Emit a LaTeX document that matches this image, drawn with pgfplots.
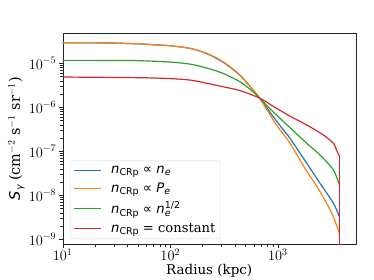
\documentclass[border=0pt]{standalone}
\usepackage{fontspec}
\setmainfont{DejaVu Serif}
\newfontfamily\djs{DejaVu Sans}
\usepackage{pgfplots}
\pgfplotsset{compat=1.18}
\definecolor{tabblue}{HTML}{1F77B4}
\definecolor{taborange}{HTML}{FF7F0E}
\definecolor{tabgreen}{HTML}{2CA02C}
\definecolor{tabred}{HTML}{D62728}
\newcommand{\sub}[1]{\raisebox{-0.35ex}{\fontsize{9.5}{11}\selectfont\djs #1}}
\newcommand{\nC}{{\djs\itshape n}\sub{CRp}}

\pgfplotstableread{
r S
10 2.94e-5
20 2.92e-5
30 2.89e-5
52 2.77e-5
70 2.65e-5
100 2.51e-5
153 2.19e-5
219 1.66e-5
310 1.06e-5
446 5.30e-6
589 2.45e-6
678 1.62e-6
910 6.1e-7
1128 3.05e-7
1300 1.97e-7
1862 5.3e-8
2473 1.87e-8
3290 6.6e-9
3740 3.27e-9
}\blue

\pgfplotstableread{
r S
10 2.94e-5
20 2.92e-5
30 2.89e-5
52 2.77e-5
70 2.65e-5
100 2.51e-5
153 2.19e-5
219 1.69e-5
310 1.09e-5
446 5.42e-6
589 2.47e-6
678 1.62e-6
910 5.1e-7
1050 3.05e-7
1300 1.52e-7
1790 4.1e-8
2473 1.21e-8
3180 3.9e-9
3740 1.37e-9
}\orange

\pgfplotstableread{
r S
10 1.17e-5
30 1.165e-5
52 1.15e-5
100 1.07e-5
153 9.6e-6
220 7.8e-6
310 5.9e-6
446 3.8e-6
589 2.26e-6
678 1.62e-6
910 7.8e-7
1300 3.45e-7
1862 1.52e-7
2473 8.2e-8
3290 3.76e-8
3740 1.71e-8
}\green

\pgfplotstableread{
r S
10 4.89e-6
52 4.72e-6
100 4.5e-6
153 4.17e-6
220 3.52e-6
310 2.94e-6
446 2.4e-6
678 1.62e-6
910 1.05e-6
1300 6.3e-7
1862 3.96e-7
2655 2.35e-7
3290 1.52e-7
3500 1.1e-7
3660 8.6e-8
3740 7.8e-8
}\red

\begin{document}
\begin{tikzpicture}
\useasboundingbox (-62.7bp,-35.7bp) rectangle (311.3bp,244.3bp);
\begin{axis}[
  xmode=log, ymode=log,
  scale only axis, width=293bp, height=211.3bp,
  xmin=10, xmax=5300, ymin=7.7e-10, ymax=4.9e-5,
  xtick={10,100,1000}, ytick={1e-9,1e-8,1e-7,1e-6,1e-5},
  tick align=outside, tick pos=left,
  axis line style={black!85}, every tick/.style={black!85},
  major tick length=4bp, minor tick length=2.3bp,
  every tick label/.append style={font=\fontsize{14}{16}\selectfont},
  xticklabel style={yshift=2.5bp},
  yticklabel style={xshift=1bp},
  xlabel={Radius (kpc)},
  ylabel={{\djs\itshape S}\sub{\itshape γ} (cm$^{-2}$ s$^{-1}$ sr$^{-1}$)},
  xlabel style={at={(axis description cs:0.5,-0.123)}, anchor=center, font=\fontsize{13.5}{16}\selectfont},
  ylabel style={at={(axis description cs:-0.158,0.5)}, anchor=center, font=\fontsize{14.5}{17}\selectfont},
  legend style={at={(0.025,0.025)}, anchor=south west, draw=black!15,
    rounded corners=2bp, fill=white, fill opacity=0.8, text opacity=1,
    font=\fontsize{13.2}{15}\selectfont, inner xsep=3bp, inner ysep=3bp,
    row sep=4bp, cells={anchor=west},
    /tikz/every odd column/.append style={column sep=8bp}},
  legend image code/.code={\draw[#1] (0bp,0bp) -- (27bp,0bp);},
]
\addplot[tabblue, line width=1.2bp, smooth, forget plot] table[x=r,y=S] {\blue};
\addplot[taborange, line width=1.2bp, smooth, forget plot] table[x=r,y=S] {\orange};
\addplot[tabgreen, line width=1.2bp, smooth, forget plot] table[x=r,y=S] {\green};
\addplot[tabred, line width=1.2bp, smooth, forget plot] table[x=r,y=S] {\red};
\addplot[tabblue, line width=1.2bp, forget plot] coordinates {(3740,3.27e-9) (3740,1e-12)};
\addplot[taborange, line width=1.2bp, forget plot] coordinates {(3740,1.37e-9) (3740,1e-12)};
\addplot[tabgreen, line width=1.2bp, forget plot] coordinates {(3740,1.71e-8) (3740,1e-12)};
\addplot[tabred, line width=1.2bp, forget plot] coordinates {(3740,7.8e-8) (3740,1e-12)};
\addlegendimage{draw=tabblue, line width=1bp}
\addlegendentry{\nC\ {\djs ∝} {\djs\itshape n}\sub{\itshape e}}
\addlegendimage{draw=taborange, line width=1bp}
\addlegendentry{\nC\ {\djs ∝} {\djs\itshape P}\sub{\itshape e}}
\addlegendimage{draw=tabgreen, line width=1bp}
\addlegendentry{\nC\ {\djs ∝} {\djs\itshape n}\rlap{\sub{\itshape e}}\raisebox{0.75ex}{\fontsize{9.5}{11}\selectfont\djs 1/2}}
\addlegendimage{draw=tabred, line width=1bp}
\addlegendentry{\nC\ = constant}
\end{axis}
\end{tikzpicture}
\end{document}
